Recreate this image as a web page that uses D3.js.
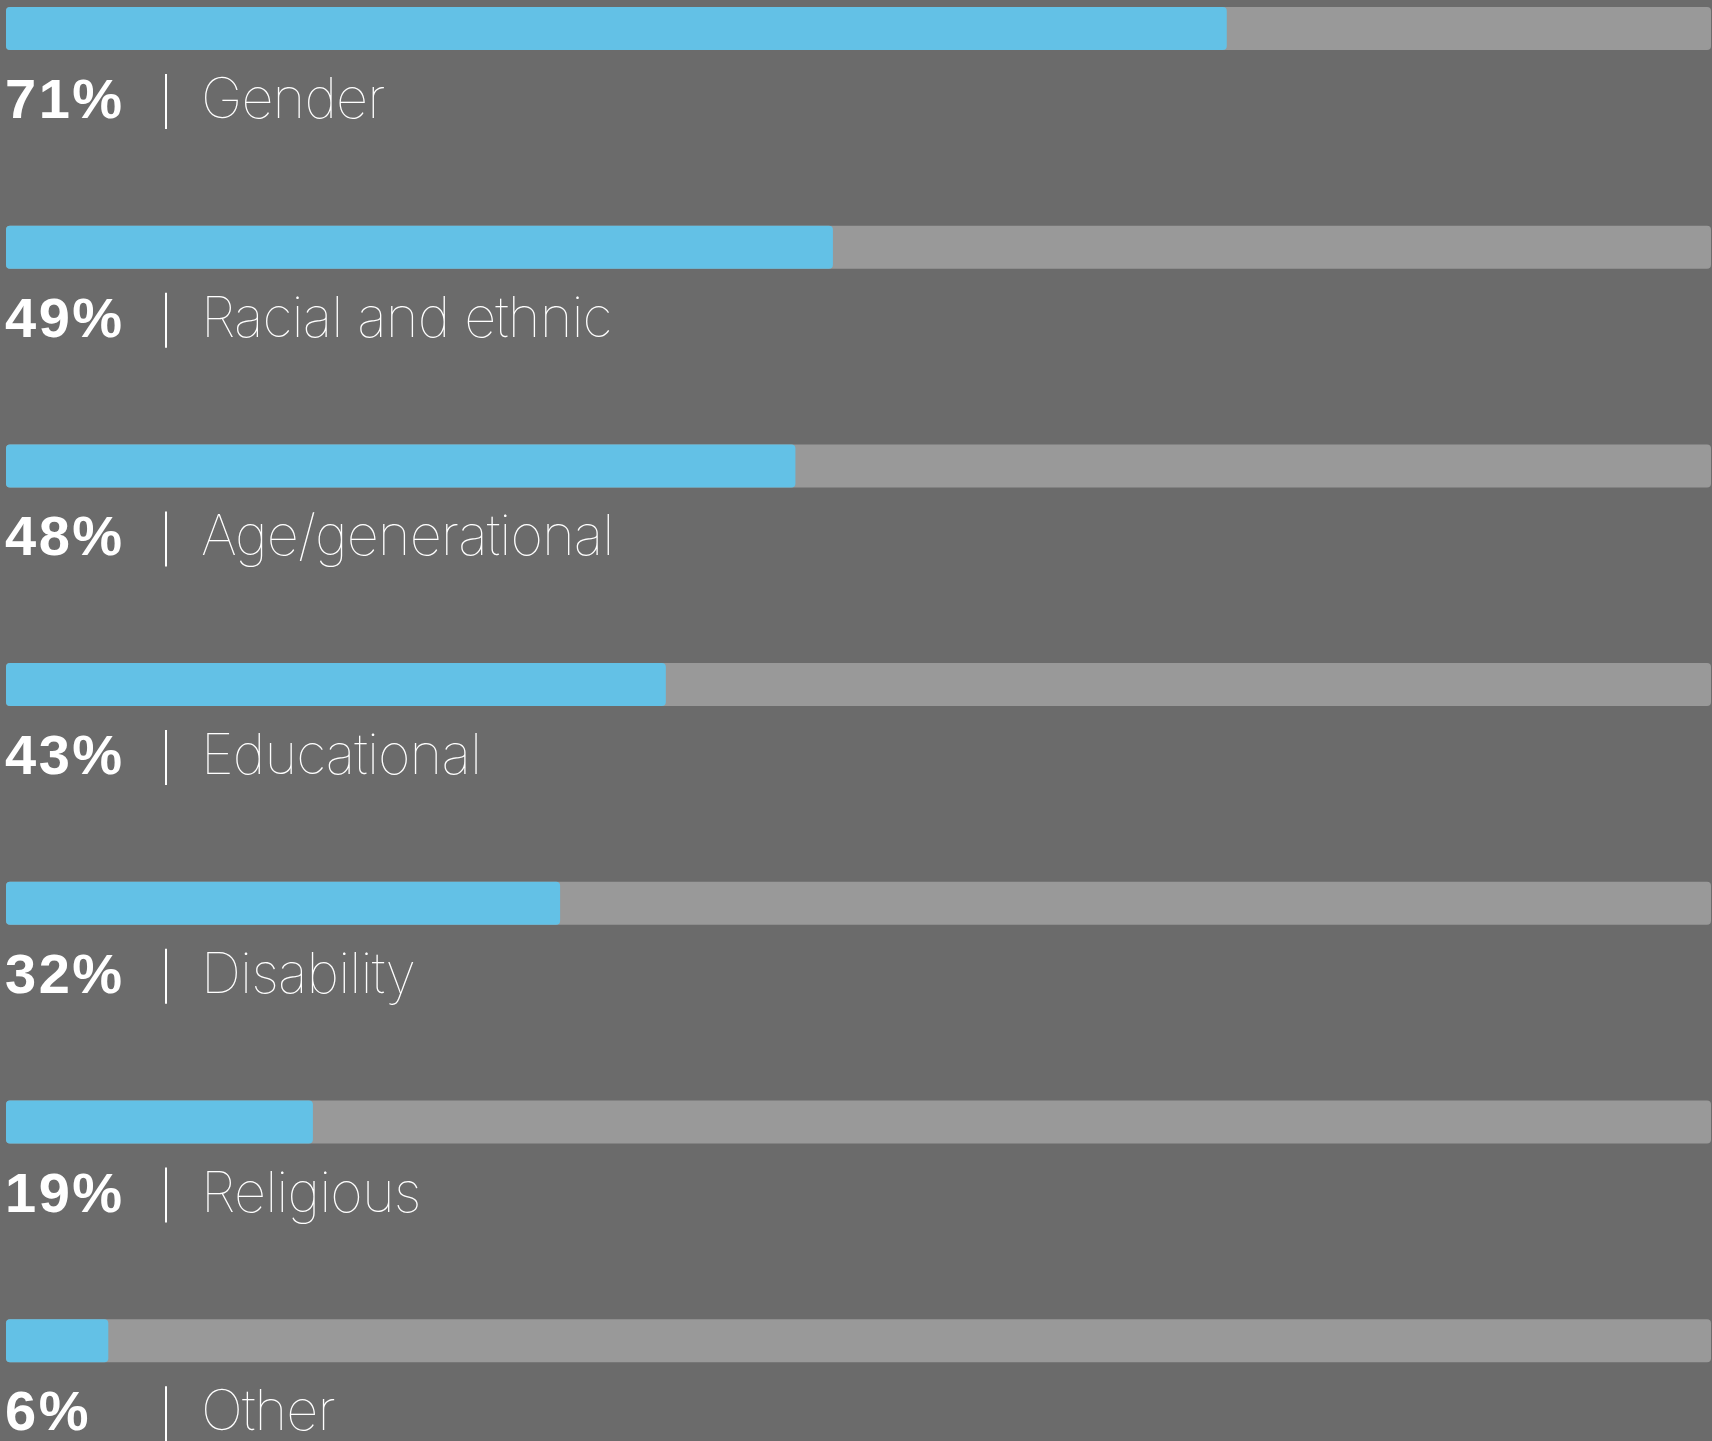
<!DOCTYPE html>
<html>
<head>
<meta charset="utf-8">
<script src="https://cdn.jsdelivr.net/npm/d3@7"></script>
<style>
  html, body { margin: 0; padding: 0; background: #6b6b6b; overflow: hidden; }
  svg { display: block; }
</style>
</head>
<body>
<svg id="chart" width="1712" height="1441"></svg>
<script>
// Categories (top to bottom)
const categories = ["Gender", "Racial and ethnic", "Age/generational", "Educational", "Disability", "Religious", "Other"];
// Printed percentage labels
const percentLabels = ["71%", "49%", "48%", "43%", "32%", "19%", "6%"];
// Bar lengths as drawn in the picture (percent of the full track)
const barValues = [71.6, 48.5, 46.3, 38.7, 32.5, 18.0, 6.0];

const W = 1712, H = 1441;
const svg = d3.select("#chart");
svg.append("rect").attr("width", W).attr("height", H).attr("fill", "#6b6b6b");

const x = d3.scaleLinear().domain([0, 100]).range([6, 1711]);
const y = d3.scaleBand().domain(categories).range([7, 7 + 7 * 218.7]).paddingInner(0);
const barH = 43;

const rows = svg.selectAll("g.row")
  .data(categories.map((c, i) => ({ cat: c, label: percentLabels[i], v: barValues[i] })))
  .join("g")
  .attr("class", "row")
  .attr("transform", d => `translate(0,${y(d.cat)})`);

rows.append("rect")
  .attr("x", x(0)).attr("y", 0)
  .attr("width", x(100) - x(0)).attr("height", barH)
  .attr("rx", 4).attr("ry", 4)
  .attr("fill", "#999999");

rows.append("rect")
  .attr("x", x(0)).attr("y", 0)
  .attr("width", d => x(d.v) - x(0)).attr("height", barH)
  .attr("rx", 4).attr("ry", 4)
  .attr("fill", "#63c1e6");

rows.append("text")
  .attr("x", 5).attr("y", 111)
  .attr("fill", "#ffffff")
  .attr("font-family", "'Liberation Sans', Arial, Helvetica, sans-serif")
  .attr("font-weight", 700)
  .attr("font-size", 56)
  .attr("letter-spacing", 2.5)
  .text(d => d.label);

rows.append("line")
  .attr("x1", 166).attr("x2", 166)
  .attr("y1", 67).attr("y2", 122)
  .attr("stroke", "#ffffff").attr("stroke-width", 2);

rows.append("text")
  .attr("x", 201).attr("y", 111)
  .attr("fill", "#ffffff")
  .attr("font-family", "Inter, Roboto, sans-serif")
  .attr("font-weight", 100)
  .attr("font-size", 56)
  .attr("letter-spacing", -0.9)
  .text(d => d.cat);
</script>
</body>
</html>
